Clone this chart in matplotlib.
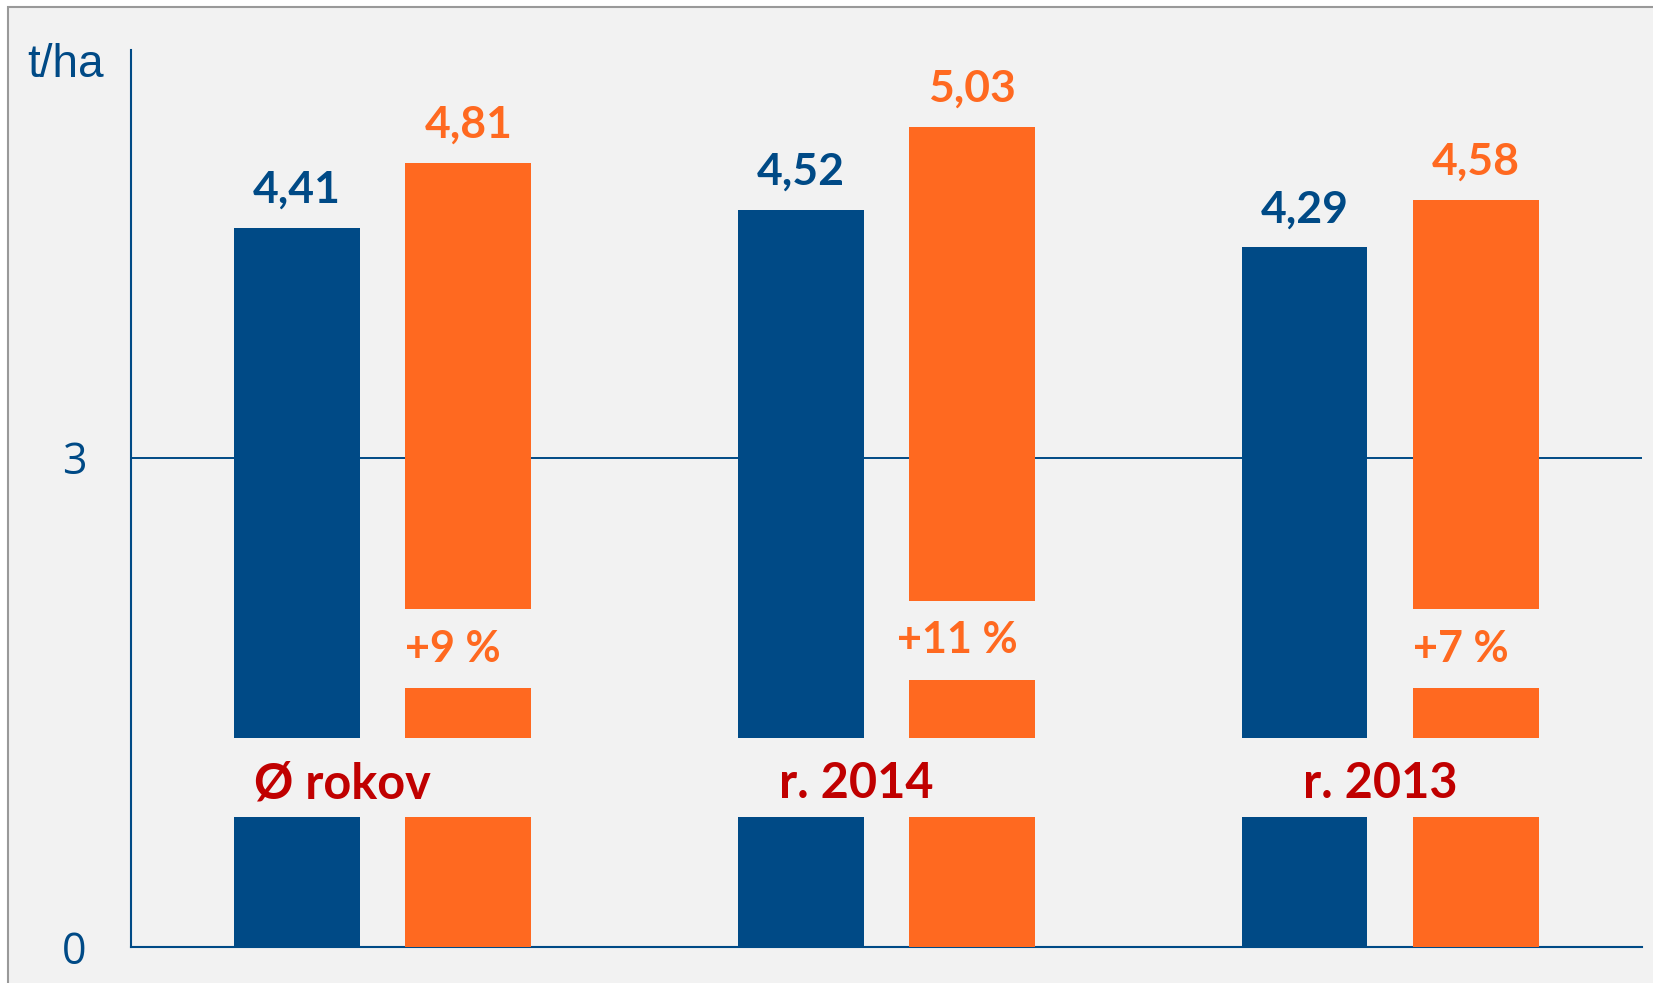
import matplotlib.pyplot as plt
from matplotlib.patches import Rectangle
import numpy as np

categories = ["Ø rokov", "r. 2014", "r. 2013"]
blue_vals = [4.41, 4.52, 4.29]
orange_vals = [4.81, 5.03, 4.58]
pct_labels = ["+9 %", "+11 %", "+7 %"]
# scale breaks drawn as gaps in the bars (t/ha)
common_gap = (0.80, 1.28)
orange_gap_lo = [1.59, 1.64, 1.59]
orange_gap_hi = [2.07, 2.12, 2.07]

blue = "#004a86"
orange = "#ff6920"
red = "#c00000"
bg = "#f2f2f2"

fig = plt.figure(figsize=(16.53, 9.83), dpi=100, facecolor="white")
fig.patches.append(Rectangle((8 / 1653, -0.05), 1.1, 1 - 7 / 983 + 0.05,
                             transform=fig.transFigure, facecolor=bg,
                             edgecolor="#999999", linewidth=1.5, zorder=-10))
ax = fig.add_axes([130.7 / 1653, 36 / 983, (1642 - 130.7) / 1653, (947 - 50) / 983])
ax.set_facecolor("none")

x = np.arange(len(categories))
w = 0.25
off = 0.17

for i in range(len(categories)):
    xb = x[i] - off
    xo = x[i] + off
    # blue bar: two pieces
    ax.bar(xb, common_gap[0], w, color=blue, zorder=3)
    ax.bar(xb, blue_vals[i] - common_gap[1], w, bottom=common_gap[1], color=blue, zorder=3)
    # orange bar: three pieces
    ax.bar(xo, common_gap[0], w, color=orange, zorder=3)
    ax.bar(xo, orange_gap_lo[i] - common_gap[1], w, bottom=common_gap[1], color=orange, zorder=3)
    ax.bar(xo, orange_vals[i] - orange_gap_hi[i], w, bottom=orange_gap_hi[i], color=orange, zorder=3)

    ax.annotate(f"{blue_vals[i]:.2f}".replace(".", ","), (xb, blue_vals[i]),
                xytext=(0, 18), textcoords="offset points", ha="center", va="baseline",
                fontsize=32, fontweight="bold", color=blue, family="Lato")
    ax.annotate(f"{orange_vals[i]:.2f}".replace(".", ","), (xo, orange_vals[i]),
                xytext=(0, 18), textcoords="offset points", ha="center", va="baseline",
                fontsize=32, fontweight="bold", color=orange, family="Lato")
    ax.text(xo - 0.03, (orange_gap_lo[i] + orange_gap_hi[i]) / 2, pct_labels[i],
            ha="center", va="center", fontsize=31, fontweight="bold", color=orange, family="Lato")

label_dx = [-0.08, -0.06, -0.02]
for i, c in enumerate(categories):
    ax.text(x[i] + label_dx[i], 1.0, c, ha="center", va="center",
            fontsize=35, fontweight="bold", color=red, family="Lato")

ax.axhline(3, color=blue, linewidth=1.4, zorder=1)

ax.set_xlim(-0.5, 2.5)
ax.set_ylim(0, 5.5)
ax.set_xticks([])
ax.set_yticks([0, 3])
ax.set_yticklabels(["0", "3"], fontsize=31, color=blue, family="Open Sans")
ax.tick_params(axis="y", length=0, pad=32)
for s in ["top", "right"]:
    ax.spines[s].set_visible(False)
for s in ["left", "bottom"]:
    ax.spines[s].set_color(blue)
    ax.spines[s].set_linewidth(1.5)

fig.text(66 / 1653, 1 - 65 / 983, "t/ha", ha="center", va="center", fontsize=33,
         color=blue, family="Liberation Sans")

fig.savefig("out.png", dpi=100, facecolor=fig.get_facecolor())
